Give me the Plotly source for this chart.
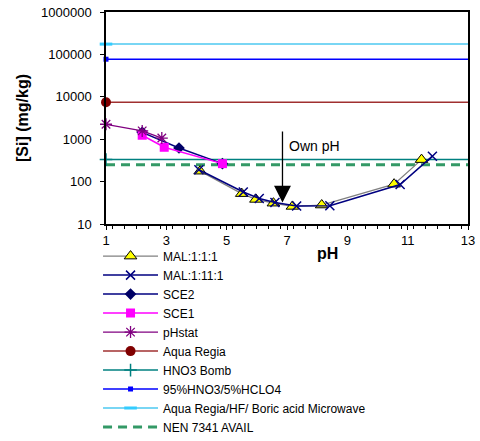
import numpy as np
import plotly.graph_objects as go

# ---------------- data ----------------
mal111_ph = [4.12, 5.50, 5.97, 6.55, 7.18, 8.15, 10.55, 11.46]
mal111_si = [176, 52, 38, 31, 26, 28, 87, 330]

mal1111_ph = [4.08, 5.55, 6.08, 6.60, 7.32, 8.42, 10.75, 11.82]
mal1111_si = [190, 57, 40, 32, 26.5, 27, 85, 398]

sce2_ph = [2.20, 3.42, 4.86]
sce2_si = [1450, 620, 265]

sce1_ph = [2.20, 2.93, 4.86]
sce1_si = [1240, 645, 265]

phstat_ph = [1.00, 2.20, 2.85]
phstat_si = [2250, 1570, 1065]

ref_names = ["Aqua Regia", "HNO3 Bomb", "95%HNO3/5%HCLO4",
             "Aqua Regia/HF/ Boric acid Microwave"]
ref_values = [7450, 330, 77000, 175000]

nen_name = "NEN 7341 AVAIL"
nen_value = 250

ph_range = [1, 13]
x_ticks = [1, 3, 5, 7, 9, 11, 13]
y_ticks = [10, 100, 1000, 10000, 100000, 1000000]
y_ticktext = ["10", "100", "1000", "10000", "100000", "1000000"]

own_ph = 6.85
own_ph_tail = 1650
own_ph_tip = 32
own_ph_label_pos = [7.0, 675]

# ---------------- styles ----------------
FONT = "Arial, Liberation Sans, Helvetica, sans-serif"
ref_line_colors = ["#A03030", "#008080", "#0000FF", "#4CC8F0"]
ref_markers = [
    dict(symbol="circle", size=10, color="#800000"),
    dict(symbol="cross-thin", size=9, color="#008080",
         line=dict(width=1.5, color="#008080")),
    dict(symbol="square", size=5, color="#0000FF"),
    dict(symbol="line-ew", size=9, color="#33CCFF",
         line=dict(width=3, color="#33CCFF")),
]

fig = go.Figure()

# NEN dashed line (drawn first, under data)
fig.add_trace(go.Scatter(
    x=ph_range, y=[nen_value, nen_value], mode="lines", name=nen_name,
    line=dict(color="#339966", width=3, dash="9px,6px"),
    legendrank=10, hoverinfo="skip"))

# horizontal reference lines (line part only)
for name, val, col in zip(ref_names, ref_values, ref_line_colors):
    fig.add_trace(go.Scatter(
        x=ph_range, y=[val, val], mode="lines", name=name,
        line=dict(color=col, width=1.5), showlegend=False,
        legendgroup=name, hoverinfo="skip"))

# data series
fig.add_trace(go.Scatter(
    x=mal111_ph, y=mal111_si, mode="lines+markers", name="MAL:1:1:1",
    line=dict(color="#808080", width=1.3),
    marker=dict(symbol="triangle-up", size=11, color="#FFFF00",
                line=dict(color="black", width=1)),
    legendrank=1, cliponaxis=False))

fig.add_trace(go.Scatter(
    x=mal1111_ph, y=mal1111_si, mode="lines+markers", name="MAL:1:11:1",
    line=dict(color="#000080", width=1.5),
    marker=dict(symbol="x-thin", size=9, color="#000080",
                line=dict(color="#000080", width=1.5)),
    legendrank=2, cliponaxis=False))

fig.add_trace(go.Scatter(
    x=sce2_ph, y=sce2_si, mode="lines+markers", name="SCE2",
    line=dict(color="#000080", width=1.5),
    marker=dict(symbol="diamond", size=9, color="#000066"),
    legendrank=3, cliponaxis=False))

fig.add_trace(go.Scatter(
    x=sce1_ph, y=sce1_si, mode="lines+markers", name="SCE1",
    line=dict(color="#FF00FF", width=1.5),
    marker=dict(symbol="square", size=9, color="#FF00FF"),
    legendrank=4, cliponaxis=False))

fig.add_trace(go.Scatter(
    x=phstat_ph, y=phstat_si, mode="lines+markers", name="pHstat",
    line=dict(color="#800080", width=1.3),
    marker=dict(symbol="asterisk", size=10, color="#800080",
                line=dict(color="#800080", width=1.3)),
    legendrank=5, cliponaxis=False))

# reference markers at pH axis start (legend entries show line + marker)
for i, (name, val, col, mk) in enumerate(zip(ref_names, ref_values,
                                             ref_line_colors, ref_markers)):
    fig.add_trace(go.Scatter(
        x=[ph_range[0]], y=[val], mode="lines+markers", name=name,
        line=dict(color=col, width=1.5), marker=mk,
        legendgroup=name, legendrank=6 + i, cliponaxis=False))

# Own pH arrow
fig.add_annotation(
    x=own_ph, y=np.log10(own_ph_tip), ax=own_ph, ay=np.log10(own_ph_tail),
    xref="x", yref="y", axref="x", ayref="y", text="", showarrow=True,
    arrowhead=2, arrowsize=2.6, arrowwidth=1.3, arrowcolor="black")
fig.add_annotation(
    x=own_ph_label_pos[0], y=np.log10(own_ph_label_pos[1]), xref="x", yref="y",
    text="Own pH", showarrow=False, xanchor="left", yanchor="middle",
    font=dict(family=FONT, size=14, color="black"))

# x-axis title placed like the original
fig.add_annotation(
    x=8.35, y=0, xref="x", yref="paper", yshift=-29, text="<b>pH</b>",
    showarrow=False, xanchor="center", yanchor="middle",
    font=dict(family=FONT, size=16, color="black"))

fig.update_layout(
    width=480, height=441,
    margin=dict(l=106, r=12, t=12, b=217, autoexpand=False),
    paper_bgcolor="white", plot_bgcolor="white",
    font=dict(family=FONT, size=13, color="black"),
    showlegend=True,
    legend=dict(x=-0.022, y=-0.083, xanchor="left", yanchor="top",
                font=dict(family=FONT, size=12, color="black"),
                bgcolor="rgba(0,0,0,0)", borderwidth=0,
                tracegroupgap=0, itemwidth=55, traceorder="normal"),
)

fig.update_xaxes(
    range=ph_range, tickvals=x_ticks, ticks="outside", ticklen=4,
    tickwidth=1, tickcolor="black", showgrid=False, zeroline=False,
    showline=True, linecolor="black", linewidth=1.5, mirror=True,
    automargin=False, ticklabeloverflow="allow",
    tickfont=dict(family=FONT, size=13, color="black"),
    minor=dict(dtick=0.4, ticks="outside", ticklen=3, tickcolor="black",
               showgrid=False))

fig.update_yaxes(
    type="log", range=[np.log10(y_ticks[0]), np.log10(y_ticks[-1])],
    tickvals=y_ticks, ticktext=y_ticktext, ticks="outside", ticklen=4,
    tickwidth=1, tickcolor="black", showgrid=False, zeroline=False,
    showline=True, linecolor="black", linewidth=1.5, mirror=True,
    ticklabelstandoff=6, automargin=False,
    tickfont=dict(family=FONT, size=13, color="black"),
    title=dict(text="<b>[Si] (mg/kg)</b>", standoff=8,
               font=dict(family=FONT, size=16, color="black")))

fig.write_html("out.html",
               config={"displayModeBar": False},
               post_script="document.body.style.margin='0px';")
